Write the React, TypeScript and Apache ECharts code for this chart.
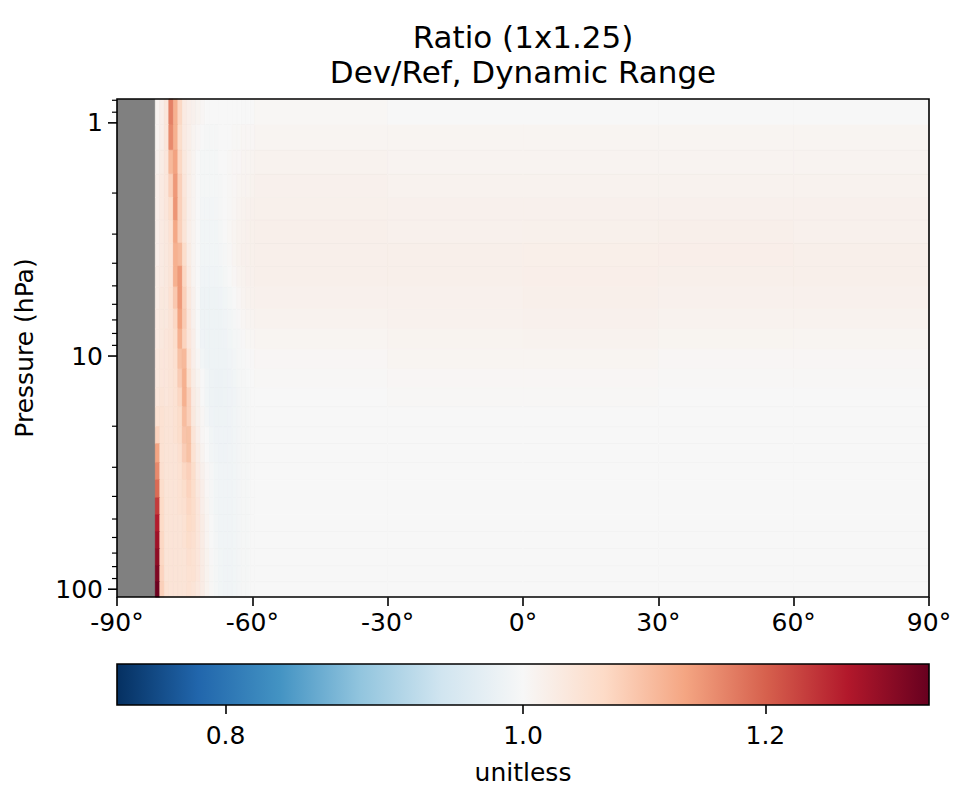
import React, { useEffect, useRef } from 'react';
import * as echarts from 'echarts';

const titleLines = ['Ratio (1x1.25)', 'Dev/Ref, Dynamic Range'];
const yAxisName = 'Pressure (hPa)';
const colorbarName = 'unitless';

// latitude cell edges (1° cells near the south pole, coarse elsewhere)
const latEdges = [
  -81.5, -80.5, -79.5, -78.5, -77.5, -76.5, -75.5, -74.5, -73.5, -72.5, -71.5, -70.5,
  -69.5, -68.5, -67.5, -66.5, -65.5, -64.5, -63.5, -62.5, -61.5, -60.5, -59.5,
  -30, 0, 30, 60, 90,
];
// pressure level edges (hPa), top to bottom
const pressureEdges = [
  0.79, 1.02, 1.31, 1.66, 2.09, 2.62, 3.28, 4.12, 5.06, 6.29, 7.66, 9.33, 11.37,
  13.7, 16.5, 20.1, 23.8, 28.7, 34.0, 40.6, 48.0, 56.7, 67.1, 79.3, 92.9, 108.0,
];
// Dev/Ref ratio per level (rows) and latitude cell (columns)
const ratioByLevel = [
  [1.01, 1.02, 1.04, 1.17, 1.12, 1.07, 1.03, 1.02, 1.015, 1.01, 1.005, 1.0, 1.0, 1.0, 1.0, 1.0, 1.0, 1.0, 1.0, 1.0, 1.0, 1.0, 1.004, 1.0, 1.0, 1.0, 1.0],
  [1.01, 1.02, 1.04, 1.16, 1.12, 1.06, 1.03, 1.02, 1.01, 1.005, 1.0, 0.997, 0.997, 0.997, 1.0, 1.0, 1.0, 1.003, 1.003, 1.005, 1.005, 1.005, 1.008, 1.008, 1.008, 1.008, 1.008],
  [1.015, 1.025, 1.04, 1.11, 1.135, 1.07, 1.035, 1.02, 1.01, 1.0, 0.996, 0.996, 0.996, 0.996, 1.0, 1.0, 1.003, 1.005, 1.005, 1.008, 1.008, 1.01, 1.012, 1.01, 1.01, 1.01, 1.01],
  [1.02, 1.03, 1.04, 1.08, 1.145, 1.08, 1.04, 1.02, 1.01, 1.0, 0.996, 0.995, 0.995, 0.996, 0.998, 1.0, 1.003, 1.005, 1.008, 1.01, 1.01, 1.012, 1.015, 1.012, 1.012, 1.013, 1.012],
  [1.02, 1.03, 1.04, 1.06, 1.15, 1.08, 1.045, 1.02, 1.01, 1.0, 0.994, 0.993, 0.993, 0.994, 0.997, 1.0, 1.003, 1.006, 1.01, 1.012, 1.014, 1.015, 1.017, 1.015, 1.015, 1.016, 1.015],
  [1.02, 1.03, 1.035, 1.05, 1.13, 1.08, 1.045, 1.02, 1.01, 1.0, 0.992, 0.992, 0.992, 0.992, 0.996, 1.0, 1.004, 1.008, 1.012, 1.014, 1.016, 1.017, 1.018, 1.016, 1.017, 1.018, 1.016],
  [1.02, 1.03, 1.035, 1.045, 1.12, 1.11, 1.06, 1.025, 1.01, 1.0, 0.992, 0.992, 0.992, 0.992, 0.994, 0.998, 1.003, 1.008, 1.012, 1.015, 1.016, 1.017, 1.018, 1.018, 1.019, 1.02, 1.018],
  [1.025, 1.03, 1.035, 1.045, 1.12, 1.145, 1.07, 1.03, 1.01, 1.0, 0.99, 0.99, 0.99, 0.99, 0.992, 0.996, 1.0, 1.005, 1.01, 1.013, 1.015, 1.016, 1.018, 1.018, 1.02, 1.018, 1.018],
  [1.025, 1.035, 1.035, 1.05, 1.09, 1.145, 1.08, 1.035, 1.015, 1.0, 0.987, 0.987, 0.987, 0.987, 0.989, 0.992, 0.996, 1.0, 1.005, 1.01, 1.012, 1.014, 1.015, 1.016, 1.018, 1.015, 1.015],
  [1.03, 1.035, 1.035, 1.045, 1.07, 1.135, 1.085, 1.04, 1.015, 1.0, 0.987, 0.987, 0.987, 0.987, 0.987, 0.99, 0.993, 0.997, 1.002, 1.006, 1.008, 1.01, 1.012, 1.014, 1.015, 1.012, 1.012],
  [1.03, 1.035, 1.04, 1.045, 1.06, 1.12, 1.075, 1.04, 1.02, 1.0, 0.989, 0.987, 0.987, 0.987, 0.987, 0.988, 0.992, 0.995, 0.998, 1.002, 1.004, 1.006, 1.008, 1.011, 1.012, 1.009, 1.008],
  [1.035, 1.04, 1.04, 1.045, 1.055, 1.1, 1.11, 1.05, 1.02, 1.005, 0.992, 0.987, 0.987, 0.987, 0.987, 0.987, 0.99, 0.993, 0.997, 0.999, 1.001, 1.002, 1.005, 1.008, 1.008, 1.005, 1.005],
  [1.035, 1.04, 1.04, 1.045, 1.05, 1.085, 1.12, 1.06, 1.025, 1.01, 1.0, 0.992, 0.987, 0.986, 0.986, 0.987, 0.988, 0.992, 0.995, 0.997, 0.999, 1.0, 1.003, 1.005, 1.005, 1.003, 1.003],
  [1.04, 1.045, 1.04, 1.045, 1.05, 1.07, 1.12, 1.08, 1.03, 1.015, 1.0, 0.992, 0.987, 0.986, 0.986, 0.987, 0.988, 0.991, 0.994, 0.997, 0.998, 1.0, 1.001, 1.003, 1.003, 1.001, 1.001],
  [1.05, 1.05, 1.045, 1.045, 1.05, 1.06, 1.105, 1.08, 1.035, 1.015, 1.005, 0.994, 0.988, 0.987, 0.987, 0.987, 0.989, 0.992, 0.994, 0.997, 0.998, 1.0, 1.0, 1.0, 1.0, 1.0, 1.0],
  [1.075, 1.05, 1.045, 1.045, 1.05, 1.06, 1.095, 1.1, 1.045, 1.02, 1.005, 1.0, 0.992, 0.989, 0.988, 0.988, 0.989, 0.992, 0.994, 0.997, 0.998, 1.0, 1.0, 1.0, 1.0, 1.0, 1.0],
  [1.133, 1.05, 1.045, 1.045, 1.045, 1.055, 1.085, 1.1, 1.05, 1.025, 1.01, 1.0, 0.993, 0.99, 0.989, 0.989, 0.99, 0.992, 0.994, 0.997, 0.998, 1.0, 1.0, 1.0, 1.0, 1.0, 1.0],
  [1.16, 1.055, 1.045, 1.045, 1.045, 1.05, 1.07, 1.08, 1.06, 1.03, 1.015, 1.005, 0.997, 0.992, 0.99, 0.99, 0.99, 0.992, 0.994, 0.997, 0.998, 1.0, 1.0, 1.0, 1.0, 1.0, 1.0],
  [1.19, 1.06, 1.045, 1.045, 1.045, 1.05, 1.06, 1.075, 1.06, 1.035, 1.02, 1.005, 0.997, 0.992, 0.99, 0.99, 0.99, 0.992, 0.994, 0.997, 0.998, 1.0, 1.0, 1.0, 1.0, 1.0, 1.0],
  [1.235, 1.065, 1.045, 1.045, 1.045, 1.05, 1.055, 1.07, 1.06, 1.04, 1.02, 1.008, 0.998, 0.992, 0.99, 0.99, 0.99, 0.992, 0.994, 0.997, 0.998, 1.0, 1.0, 1.0, 1.0, 1.0, 1.0],
  [1.265, 1.065, 1.045, 1.045, 1.045, 1.045, 1.05, 1.065, 1.06, 1.04, 1.025, 1.01, 1.0, 0.993, 0.991, 0.99, 0.99, 0.992, 0.994, 0.997, 0.998, 1.0, 1.0, 1.0, 1.0, 1.0, 1.0],
  [1.285, 1.07, 1.045, 1.045, 1.045, 1.045, 1.05, 1.06, 1.055, 1.04, 1.025, 1.01, 1.0, 0.994, 0.991, 0.99, 0.99, 0.992, 0.994, 0.997, 0.998, 1.0, 1.0, 1.0, 1.0, 1.0, 1.0],
  [1.3, 1.07, 1.045, 1.045, 1.045, 1.045, 1.045, 1.055, 1.05, 1.04, 1.025, 1.012, 1.002, 0.995, 0.992, 0.99, 0.99, 0.992, 0.994, 0.997, 0.998, 1.0, 1.0, 1.0, 1.0, 1.0, 1.0],
  [1.315, 1.075, 1.045, 1.045, 1.045, 1.045, 1.045, 1.05, 1.05, 1.04, 1.025, 1.012, 1.003, 0.996, 0.992, 0.99, 0.99, 0.992, 0.994, 0.997, 0.998, 1.0, 1.0, 1.0, 1.0, 1.0, 1.0],
  [1.33, 1.08, 1.05, 1.045, 1.045, 1.045, 1.045, 1.05, 1.045, 1.035, 1.025, 1.012, 1.003, 0.996, 0.992, 0.99, 0.99, 0.992, 0.994, 0.997, 0.998, 1.0, 1.0, 1.0, 1.0, 1.0, 1.0],
];

const latTicks = [-90, -60, -30, 0, 30, 60, 90];
const yMajorTicks = [1, 10, 100];
const yMinorTicks = [0.8, 0.9, 2, 3, 4, 5, 6, 7, 8, 9, 20, 30, 40, 50, 60, 70, 80, 90];
const colorbarTicks = [0.8, 1.0, 1.2];
// diverging norm: vmin, centre, vmax
const normRange = [0.727, 1.0, 1.335];
const rdBuR = ['#053061', '#2166ac', '#4393c3', '#92c5de', '#d1e5f0', '#f7f7f7', '#fddbc7', '#f4a582', '#d6604d', '#b2182b', '#67001f'];

const FONT = 'DejaVu Sans';

// two-slope normalisation (value -> 0..1 position in the colour map)
function norm(v: number): number {
  const [lo, c, hi] = normRange;
  return v < c ? 0.5 * (v - lo) / (c - lo) : 0.5 + 0.5 * (v - c) / (hi - c);
}

export default function App() {
  const ref = useRef<HTMLDivElement>(null);
  useEffect(() => {
    document.body.style.margin = '0';
    if (!ref.current) return;
    const chart = echarts.init(ref.current, undefined, { renderer: 'svg' });

    const cells: number[][] = [];
    for (let i = 0; i < ratioByLevel.length; i++) {
      for (let j = 0; j < ratioByLevel[i].length; j++) {
        cells.push([latEdges[j], latEdges[j + 1], pressureEdges[i], pressureEdges[i + 1], ratioByLevel[i][j]]);
      }
    }
    const yTickData = yMajorTicks.map((v) => [latTicks[0], v, 1]).concat(yMinorTicks.map((v) => [latTicks[0], v, 0]));

    // palette sampled evenly in value space through the two-slope norm
    const N = 120;
    const palette: string[] = [];
    for (let k = 0; k <= N; k++) {
      const v = normRange[0] + (normRange[2] - normRange[0]) * k / N;
      palette.push(echarts.color.lerp(Math.min(1, Math.max(0, norm(v))), rdBuR) as string);
    }
    const cbTickPos = colorbarTicks.map(norm);

    const frame = (params: any) => {
      const cs = params.coordSys;
      return {
        type: 'rect',
        shape: { x: cs.x, y: cs.y, width: cs.width, height: cs.height },
        style: { fill: 'none', stroke: '#000', lineWidth: 1.6 },
      };
    };

    const option: any = {
      animation: false,
      textStyle: { fontFamily: FONT },
      graphic: [
        { type: 'text', x: 523, y: 37, style: { text: titleLines[0], font: `31px "${FONT}"`, fill: '#000', textAlign: 'center', textVerticalAlign: 'middle' } },
        { type: 'text', x: 523, y: 72, style: { text: titleLines[1], font: `31px "${FONT}"`, fill: '#000', textAlign: 'center', textVerticalAlign: 'middle' } },
      ],
      grid: [
        { left: 117, top: 99, width: 812, height: 498, show: true, backgroundColor: '#808080', borderWidth: 0 },
        { left: 117, top: 664, width: 812, height: 41, show: false },
      ],
      xAxis: [
        {
          gridIndex: 0, type: 'value', min: -90, max: 90, interval: 30,
          axisLine: { show: false },
          axisTick: { show: true, length: 9, lineStyle: { color: '#000', width: 1.6 } },
          axisLabel: { formatter: (v: number) => `${v}°`, fontSize: 25, color: '#000', fontFamily: FONT, margin: 13 },
          splitLine: { show: false },
        },
        {
          gridIndex: 1, type: 'value', min: 0, max: 1,
          axisLine: { show: false },
          axisTick: { show: true, length: 9, customValues: cbTickPos, lineStyle: { color: '#000', width: 1.6 } },
          axisLabel: {
            customValues: cbTickPos, fontSize: 25, color: '#000', fontFamily: FONT, margin: 18,
            formatter: (t: number) => {
              const idx = cbTickPos.findIndex((p) => Math.abs(p - t) < 1e-6);
              return idx >= 0 ? colorbarTicks[idx].toFixed(1) : '';
            },
          },
          splitLine: { show: false },
          name: colorbarName, nameLocation: 'middle', nameGap: 55,
          nameTextStyle: { fontSize: 25, color: '#000', fontFamily: FONT },
        },
      ],
      yAxis: [
        {
          gridIndex: 0, type: 'log', logBase: 10, min: 0.79, max: 108, inverse: true,
          axisLine: { show: false },
          axisTick: { show: false },
          axisLabel: {
            fontSize: 25, color: '#000', fontFamily: FONT, margin: 14,
            formatter: (v: number) => {
              const l = Math.log10(v);
              return Math.abs(l - Math.round(l)) < 1e-6 ? String(Math.round(v)) : '';
            },
          },
          splitLine: { show: false },
          minorSplitLine: { show: false },
          name: yAxisName, nameLocation: 'middle', nameGap: 80, nameRotate: 90,
          nameTextStyle: { fontSize: 25, color: '#000', fontFamily: FONT },
        },
        { gridIndex: 1, type: 'value', min: 0, max: 1, show: false },
      ],
      visualMap: {
        show: false, type: 'continuous', min: normRange[0], max: normRange[2], dimension: 4, seriesIndex: 0,
        inRange: { color: palette },
      },
      series: [
        {
          type: 'custom', name: 'ratio', xAxisIndex: 0, yAxisIndex: 0, silent: true,
          encode: { x: [0, 1], y: [2, 3] },
          data: cells,
          renderItem: (params: any, api: any) => {
            const p0 = api.coord([api.value(0), api.value(2)]);
            const p1 = api.coord([api.value(1), api.value(3)]);
            const color = api.visual('color');
            return {
              type: 'rect',
              shape: { x: Math.min(p0[0], p1[0]), y: Math.min(p0[1], p1[1]), width: Math.abs(p1[0] - p0[0]), height: Math.abs(p1[1] - p0[1]) },
              style: { fill: color, stroke: color, lineWidth: 0.8 },
            };
          },
        },
        {
          type: 'custom', name: 'yticks', xAxisIndex: 0, yAxisIndex: 0, silent: true, clip: false, z: 5,
          encode: { x: 0, y: 1 },
          data: yTickData,
          renderItem: (params: any, api: any) => {
            const pt = api.coord([api.value(0), api.value(1)]);
            const major = api.value(2) === 1;
            const len = major ? 9 : 5;
            return {
              type: 'line',
              shape: { x1: pt[0] - len, y1: pt[1], x2: pt[0], y2: pt[1] },
              style: { stroke: '#000', lineWidth: major ? 1.6 : 1.2 },
            };
          },
        },
        {
          type: 'custom', name: 'frame', xAxisIndex: 0, yAxisIndex: 0, silent: true, z: 6,
          data: [[0, 10]],
          renderItem: frame,
        },
        {
          type: 'custom', name: 'colorbar', xAxisIndex: 1, yAxisIndex: 1, silent: true,
          data: [[0, 0, 1, 1]],
          encode: { x: [0, 2], y: [1, 3] },
          renderItem: (params: any, api: any) => {
            const p0 = api.coord([api.value(0), api.value(1)]);
            const p1 = api.coord([api.value(2), api.value(3)]);
            const stops = rdBuR.map((c, i) => ({ offset: i / (rdBuR.length - 1), color: c }));
            return {
              type: 'rect',
              shape: { x: p0[0], y: p1[1], width: p1[0] - p0[0], height: p0[1] - p1[1] },
              style: { fill: new echarts.graphic.LinearGradient(0, 0, 1, 0, stops) },
            };
          },
        },
        {
          type: 'custom', name: 'colorbarFrame', xAxisIndex: 1, yAxisIndex: 1, silent: true, z: 6,
          data: [[0.5, 0.5]],
          renderItem: frame,
        },
      ],
    };
    chart.setOption(option);
    return () => chart.dispose();
  }, []);
  return <div ref={ref} style={{ width: 958, height: 794 }} />;
}
